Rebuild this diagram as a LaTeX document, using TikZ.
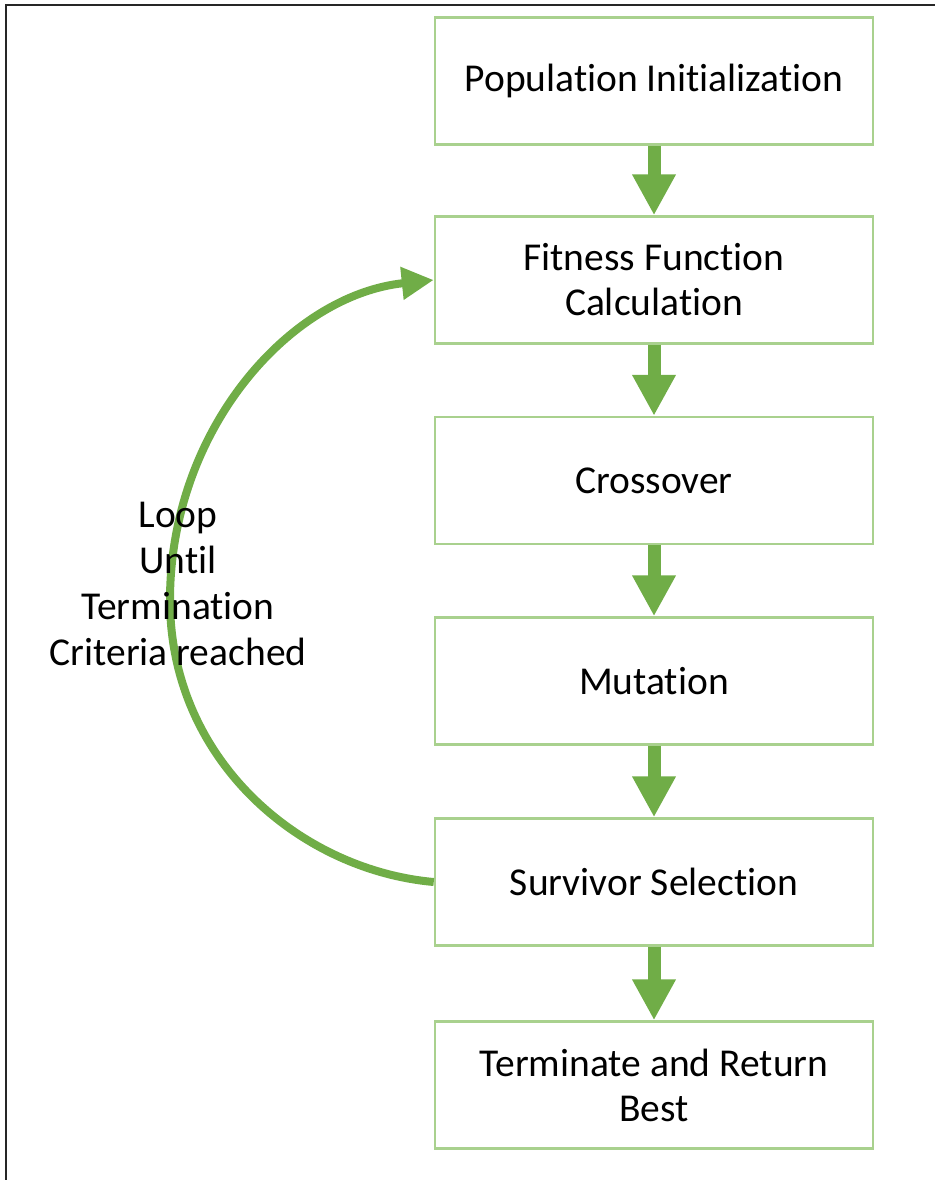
\documentclass[tikz,border=0pt]{standalone}
\usepackage{fontspec}
\setmainfont[Ligatures=NoCommon]{Carlito}
\usetikzlibrary{arrows.meta}
\definecolor{boxline}{HTML}{A9D18E}
\definecolor{flowgreen}{HTML}{70AD47}
\begin{document}
\begin{tikzpicture}[x=1pt,y=-1pt,
  stepbox/.style={draw=boxline,line width=2.5pt,fill=white,minimum width=438pt,
    minimum height=127pt,align=center,inner sep=0pt,
    font=\fontsize{39.5}{45}\selectfont},
  flow/.style={draw=flowgreen,line width=13pt,
    -{Triangle[width=41pt,length=41pt]}},
  loopflow/.style={draw=flowgreen,line width=8pt,
    -{Triangle[width=31pt,length=32pt]}},
  label/.style={align=center,font=\fontsize{39.5}{46}\selectfont}]
  \useasboundingbox (0,0) rectangle (935,1180);
  % outer frame (top and left edges)
  \draw[line width=2.2pt,black!85] (6,1180) -- (6,5) -- (935,5);

  % process steps
  \node[stepbox] (init) at (654,81)  {Population Initialization};
  \node[stepbox] (fit)  at (654,280) {Fitness Function\\Calculation};
  \node[stepbox] (cross) at (654,480.5) {Crossover};
  \node[stepbox] (mut)  at (654,681) {Mutation};
  \node[stepbox] (surv) at (654,882) {Survivor Selection};
  \node[stepbox] (term) at (654,1085) {Terminate and Return\\Best};

  % downward flow arrows
  \draw[flow] (init.south) -- (fit.north);
  \draw[flow] (fit.south) -- (cross.north);
  \draw[flow] (cross.south) -- (mut.north);
  \draw[flow] (mut.south) -- (surv.north);
  \draw[flow] (surv.south) -- (term.north);

  % loop back from survivor selection to fitness calculation
  \coordinate (bend) at (170,600);
  \draw[loopflow] (surv.west) .. controls (300,870) and (170,760) .. (bend)
    .. controls (170,430) and (290,295) .. (fit.west);

  \node[label] (loop) at (178,584) {Loop\\Until\\Termination\\Criteria reached};
\end{tikzpicture}
\end{document}
